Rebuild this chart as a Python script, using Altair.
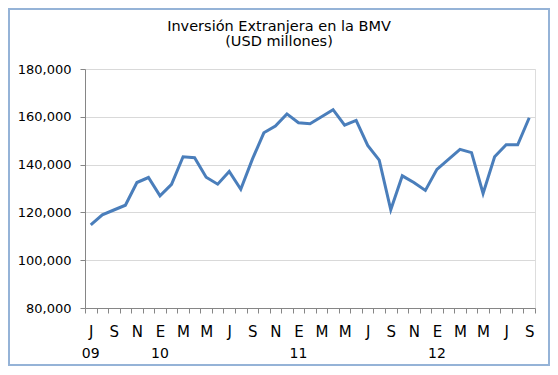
import altair as alt
import pandas as pd

# Monthly data, Jul 2009 - Sep 2012
months = ["2009-07","2009-08","2009-09","2009-10","2009-11","2009-12",
          "2010-01","2010-02","2010-03","2010-04","2010-05","2010-06",
          "2010-07","2010-08","2010-09","2010-10","2010-11","2010-12",
          "2011-01","2011-02","2011-03","2011-04","2011-05","2011-06",
          "2011-07","2011-08","2011-09","2011-10","2011-11","2011-12",
          "2012-01","2012-02","2012-03","2012-04","2012-05","2012-06",
          "2012-07","2012-08","2012-09"]
values = [114800, 119000, 121000, 123000, 132500, 134600,
          126900, 131700, 143300, 142900, 134700, 131800,
          137100, 129700, 142200, 153300, 156100, 161200,
          157500, 157100, 160000, 163000, 156500, 158500,
          148000, 141900, 121100, 135300, 132500, 129200,
          138000, 142200, 146400, 145000, 127900, 143300,
          148300, 148300, 159600]
month_labels = ["J","","S","","N","",
                "E","","M","","M","",
                "J","","S","","N","",
                "E","","M","","M","",
                "J","","S","","N","",
                "E","","M","","M","",
                "J","","S"]
year_idx = [0, 6, 18, 30]
year_labels = ["09", "10", "11", "12"]
y_ticks = [80000, 100000, 120000, 140000, 160000, 180000]
title_lines = ["Inversión Extranjera en la BMV", "(USD millones)"]

FONT = "DejaVu Sans"
W, H = 450, 239

df = pd.DataFrame({"i": list(range(len(months))), "month": months, "value": values})
years_df = pd.DataFrame({"i": year_idx, "label": year_labels})
title_df = pd.DataFrame({"line": title_lines, "k": [0, 1]})

label_expr = "[" + ",".join("'%s'" % s for s in month_labels) + "][datum.value]"

x_enc = alt.X("i:O", title=None,
              scale=alt.Scale(type="band", paddingInner=0, paddingOuter=0,
                              domain=list(range(len(months)))),
              axis=alt.Axis(labelExpr=label_expr, labelAngle=0, labelOverlap=False,
                            tickBand="extent", ticks=True, tickSize=5,
                            tickColor="#868686", domainColor="#868686",
                            labelFont=FONT, labelFontSize=15, labelColor="#000000",
                            labelBaseline="middle", labelPadding=18, grid=False))

line = alt.Chart(df).mark_line(color="#4A7EBB", strokeWidth=3).encode(
    x=x_enc,
    y=alt.Y("value:Q", title=None,
            scale=alt.Scale(domain=[80000, 180000], nice=False, zero=False),
            axis=alt.Axis(values=y_ticks, format=",.0f", tickSize=5,
                          tickColor="#868686", domainColor="#868686",
                          gridColor="#D9D9D9", grid=True,
                          labelFont=FONT, labelFontSize=13, labelColor="#000000",
                          labelPadding=9))
)

years = alt.Chart(years_df).mark_text(font=FONT, fontSize=14, color="#000000",
                                      baseline="middle").encode(
    x=alt.X("i:O"),
    y=alt.value(H + 46),
    text="label:N"
)

title = alt.Chart(title_df).mark_text(font=FONT, fontSize=14.5, color="#000000",
                                      baseline="middle").encode(
    x=alt.value(279 - 85),
    y=alt.Y("k:O", scale=alt.Scale(type="point", domain=[0, 1], range=[-42, -27],
                                   padding=0), axis=None),
    text="line:N"
)

border = alt.Chart(pd.DataFrame({"a": [0]})).mark_rect(
    fill=None, stroke="#95B3D7", strokeWidth=2).encode(
    x=alt.value(-76), x2=alt.value(W + 14),
    y=alt.value(-60), y2=alt.value(H + 57)
)

chart = alt.layer(line, years, title, border).resolve_scale(y="independent").properties(
    width=W, height=H,
    autosize=alt.AutoSizeParams(type="none"),
    padding={"left": 77, "top": 61, "right": 15, "bottom": 59}
).configure_view(stroke=None).configure(background="#ffffff")

chart.save("out.html", embed_options={"renderer": "svg", "actions": False})
